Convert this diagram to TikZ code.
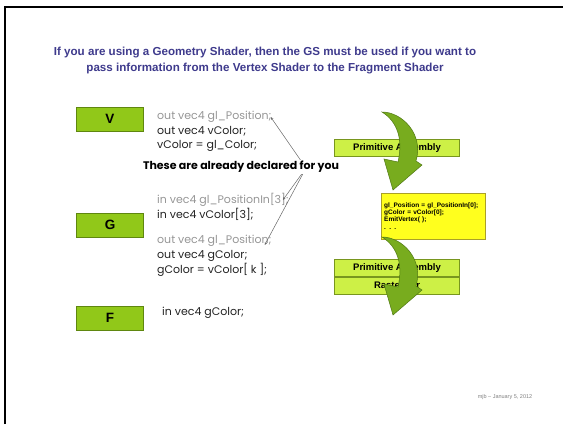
\documentclass[tikz,border=0pt]{standalone}
\usepackage{fontspec}
\setmainfont{Liberation Sans}
\newfontfamily\codefont{Poppins}
\usetikzlibrary{arrows.meta, positioning}

\definecolor{titleblue}{RGB}{62,58,140}
\definecolor{stagegreen}{RGB}{145,200,25}
\definecolor{stageedge}{RGB}{95,135,15}
\definecolor{limefill}{RGB}{205,240,70}
\definecolor{limeedge}{RGB}{120,150,30}
\definecolor{arrowgreen}{RGB}{120,172,30}
\definecolor{arrowedge}{RGB}{80,120,20}
\definecolor{gsyellow}{RGB}{255,255,30}
\definecolor{gsedge}{RGB}{170,160,40}
\definecolor{codegray}{RGB}{150,150,150}
\definecolor{codeblack}{RGB}{35,35,35}

\begin{document}
\begin{tikzpicture}[
    x=1pt, y=-1pt,
    stage/.style={
        draw=stageedge,
        fill=stagegreen,
        minimum width=67pt,
        minimum height=24pt,
        inner sep=0pt,
        font=\bfseries\fontsize{13.5}{15}\selectfont
    },
    fixed/.style={
        draw=limeedge,
        fill=limefill,
        minimum width=125pt,
        minimum height=17pt,
        inner sep=0pt,
        font=\bfseries\fontsize{9.5}{11}\selectfont
    },
    code/.style={
        anchor=west,
        inner sep=0pt,
        text=codeblack,
        font=\codefont\fontsize{11}{13}\selectfont
    },
    builtin/.style={code, text=codegray},
    gsbox/.style={
        draw=gsedge,
        fill=gsyellow,
        anchor=north west,
        align=left,
        text width=98pt,
        minimum height=46pt,
        inner sep=3pt,
        font=\bfseries\fontsize{6.5}{6.8}\selectfont
    },
    pointer/.style={-{Stealth[length=3pt, width=2.5pt]}, gray!80!black, line width=0.5pt},
    bendarrow/.style={fill=arrowgreen, draw=arrowedge, line width=0.5pt}
]
    \useasboundingbox (0,0) rectangle (563,424);
    \draw[line width=2pt] (5,424) -- (5,7) -- (563,7);

    \node[align=center, text=titleblue, font=\bfseries\fontsize{11.6}{16}\selectfont] (title) at (265,61)
        {If you are using a Geometry Shader, then the GS must be used if you want to\\
         pass information from the Vertex Shader to the Fragment Shader};

    % shader stages
    \node[stage] (vert) at (110,119) {V};
    \node[stage] (geom) at (110,225) {G};
    \node[stage] (frag) at (110,318) {F};

    % vertex shader
    \node[builtin] (vpos) at (157,117) {out vec4 gl\_Position;};
    \node[code] (vcol) at (157,131) {out vec4 vColor;};
    \node[code] (vset) at (157,146) {vColor = gl\_Color;};

    % geometry shader
    \node[builtin] (gin) at (157,200) {in vec4 gl\_PositionIn[3];};
    \node[code] (gvin) at (157,214) {in vec4 vColor[3];};
    \node[builtin] (gpos) at (157,241) {out vec4 gl\_Position;};
    \node[code] (gcol) at (157,256) {out vec4 gColor;};
    \node[code] (gset) at (157,270) {gColor = vColor[ k ];};

    % fragment shader
    \node[code] (fin) at (162,313) {in vec4 gColor;};

    \coordinate (hub) at (306,168);
    \draw[pointer] (hub) -- ([xshift=-1pt]vpos.east);
    \draw[pointer] (hub) -- ([xshift=-6pt]gin.east);
    \draw[pointer] (hub) -- ([xshift=-7pt, yshift=-4pt]gpos.east);
    \node[fill=white, inner sep=1pt, font=\codefont\bfseries\fontsize{11}{13}\selectfont] (declared) at (241,167)
        {These are already declared for you};

    % fixed-function stages
    \node[fixed] (asm1) at (397,148) {Primitive Assembly};
    \node[gsbox] (emit) at (381,193)
        {gl\_Position = gl\_PositionIn[0];\\
         gColor = vColor[0];\\
         EmitVertex( );\\[1.5pt]
         . . .};
    \node[fixed] (asm2) at (397,268) {Primitive Assembly};
    \node[fixed, below=0pt of asm2] (rast) {Rasterizer};

    % curved flow arrows
    \foreach \dy in {0,125} {
        \begin{scope}[yshift=-\dy pt]
            \filldraw[bendarrow] (382,112) .. controls (402,112) and (424,134) .. (416,161)
                -- (422,165) -- (393,190) -- (384,159) -- (398,162)
                .. controls (403,140) and (398,122) .. (382,112) -- cycle;
        \end{scope}
    }

    \node[text=gray, font=\fontsize{5.5}{6}\selectfont] (credit) at (505,397) {mjb -- January 5, 2012};
\end{tikzpicture}
\end{document}
